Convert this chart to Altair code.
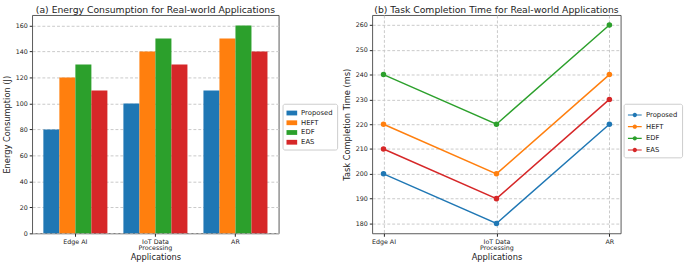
import altair as alt
import pandas as pd

apps = ["Edge AI", "IoT Data\nProcessing", "AR"]
methods = ["Proposed", "HEFT", "EDF", "EAS"]
colors = ["#1f77b4", "#ff7f0e", "#2ca02c", "#d62728"]

energy_proposed = [80, 100, 110]
energy_heft = [120, 140, 150]
energy_edf = [130, 150, 160]
energy_eas = [110, 130, 140]

time_proposed = [200, 180, 220]
time_heft = [220, 200, 240]
time_edf = [240, 220, 260]
time_eas = [210, 190, 230]

energy = [energy_proposed, energy_heft, energy_edf, energy_eas]
times = [time_proposed, time_heft, time_edf, time_eas]

rows_e, rows_t = [], []
for m, ev, tv in zip(methods, energy, times):
    for a, e, t in zip(apps, ev, tv):
        rows_e.append({"app": a, "method": m, "value": e})
        rows_t.append({"app": a, "method": m, "value": t})
df_e = pd.DataFrame(rows_e)
df_t = pd.DataFrame(rows_t)

FONT = "DejaVu Sans"
TXT = "#222222"
GRID = "#c8c8c8"

xaxis_common = dict(
    labelAngle=0,
    labelExpr="split(datum.label, '\\n')",
    labelLineHeight=7,
    labelFontSize=6.5,
    labelColor=TXT,
    labelPadding=2,
    tickColor=TXT,
    tickSize=3,
    domain=False,
    titleFontSize=8.5,
    titleFontWeight="normal",
    titleColor=TXT,
    titlePadding=1,
)

yaxis_common = dict(
    grid=True, gridDash=[3, 2], gridColor=GRID,
    labelFontSize=6.5, labelColor=TXT, tickColor=TXT, tickSize=3,
    domain=False, titleFontSize=8.5, titleFontWeight="normal",
    titleColor=TXT, titlePadding=4,
)

bars = alt.Chart(df_e, title=alt.Title("(a) Energy Consumption for Real-world Applications")).mark_bar().encode(
    x=alt.X("app:N", sort=apps, title="Applications",
            scale=alt.Scale(paddingInner=0.2, paddingOuter=0.14),
            axis=alt.Axis(grid=False, **xaxis_common)),
    xOffset=alt.XOffset("method:N", sort=methods,
                        scale=alt.Scale(paddingInner=0, paddingOuter=0)),
    y=alt.Y("value:Q", title="Energy Consumption (J)",
            scale=alt.Scale(domain=[0, 168], nice=False),
            axis=alt.Axis(values=[0, 20, 40, 60, 80, 100, 120, 140, 160], **yaxis_common)),
    color=alt.Color("method:N", sort=methods,
                    scale=alt.Scale(domain=methods, range=colors), title=None,
                    legend=alt.Legend(orient="none", legendX=257, legendY=91,
                                      symbolType="M-1,-0.45L1,-0.45L1,0.45L-1,0.45Z",
                                      symbolSize=120, symbolStrokeWidth=0)),
).properties(width=253, height=224)

lines = alt.Chart(df_t, title=alt.Title("(b) Task Completion Time for Real-world Applications")).mark_line(
    strokeWidth=1.5,
    point=alt.OverlayMarkDef(filled=True, size=32, opacity=1),
).encode(
    x=alt.X("app:N", sort=apps, title="Applications",
            scale=alt.Scale(type="point", padding=0.1),
            axis=alt.Axis(grid=True, gridDash=[3, 2], gridColor=GRID, **xaxis_common)),
    y=alt.Y("value:Q", title="Task Completion Time (ms)",
            scale=alt.Scale(domain=[176, 264], nice=False),
            axis=alt.Axis(values=[180, 190, 200, 210, 220, 230, 240, 250, 260], **yaxis_common)),
    color=alt.Color("method:N", sort=methods,
                    scale=alt.Scale(domain=methods, range=colors), title=None,
                    legend=alt.Legend(orient="none", legendX=258, legendY=91,
                                      symbolType="M-1,-0.08L1,-0.08L1,0.08L-1,0.08ZM0.32,0A0.32,0.32 0 1 1 -0.32,0A0.32,0.32 0 1 1 0.32,0Z",
                                      symbolSize=200, symbolStrokeWidth=0)),
).properties(width=255, height=224)

chart = alt.hconcat(bars, lines, spacing=4).resolve_legend(color="independent").configure(
    font=FONT,
    padding={"left": 2, "top": 1, "right": 2, "bottom": 0},
).configure_view(
    stroke="#444444", strokeWidth=0.9,
).configure_title(
    fontSize=9.5, fontWeight="normal", color=TXT, offset=1, anchor="middle",
).configure_legend(
    labelFontSize=7, labelColor=TXT, padding=4, strokeColor="#cccccc",
    cornerRadius=2, fillColor="white", rowPadding=1, symbolOffset=0, labelOffset=4,
)

chart.save("out.html", embed_options={"renderer": "svg", "actions": False})
